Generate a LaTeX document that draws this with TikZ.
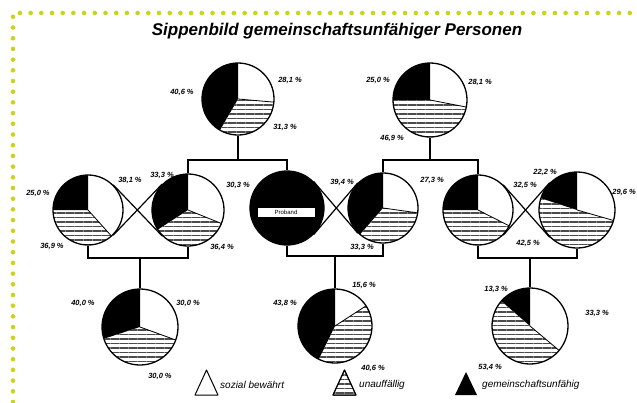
\documentclass[tikz,border=0pt]{standalone}
\usepackage{fontspec}
\setmainfont{Liberation Sans}
\usetikzlibrary{patterns.meta,calc}
\definecolor{dotgreen}{RGB}{200,212,30}
\tikzset{
 pienode/.style={circle, draw=black, line width=1.3pt, inner sep=0pt},
 conn/.style={line width=1.6pt},
 crossline/.style={line width=1.2pt},
 hatch/.style={pattern={Lines[angle=0,distance=4.5pt,line width=1.6pt]}, pattern color=black!70},
 pct/.style={font=\fontsize{7.5}{8}\selectfont\bfseries\itshape, inner sep=0pt},
 legtext/.style={font=\fontsize{10}{11}\selectfont\itshape, anchor=west, inner sep=0pt},
 dotline/.style={draw=dotgreen, line width=4.6pt, line cap=round, dash pattern=on 0pt off 10.7pt},
}
\newcommand\mypie[6]{%
 \fill[black] (#2,-#3) -- ++(90:#4) arc[start angle=90,end angle=#5,radius=#4] -- cycle;
 \fill[hatch] (#2,-#3) -- ++(#6:#4) arc[start angle=#6,end angle=#5-360,radius=#4] -- cycle;
 \draw[line width=0.8pt] (#2,-#3) -- ++(#6:#4);
 \node[pienode, minimum size=#4*2pt] (#1) at (#2,-#3) {};
}
\begin{document}
\begin{tikzpicture}[x=1pt,y=1pt]
\useasboundingbox (0,0) rectangle (637,-402);
\fill[white] (0,0) rectangle (637,-402);
\draw[dotline] (13,-402) -- (13,-13) -- (640,-13);

\node[font=\fontsize{17}{19}\selectfont\bfseries\itshape] (title) at (337,-31) {Sippenbild gemeinschaftsunfähiger Personen};

% pies: name, cx, cy, r, black end, white end
\mypie{T1}{238}{99}{36}{240}{-5}
\mypie{T2}{430}{100}{37}{180}{-11}
\mypie{A}{88}{210}{35}{180}{-48}
\mypie{B}{188}{210}{36}{213}{-22}
\node[pienode, fill=black, minimum size=74pt] (C) at (287,-208) {};
\node[fill=white, draw=black, line width=0.6pt, minimum width=58pt, minimum height=10pt, inner sep=0pt, font=\fontsize{6}{6}\selectfont] (Clabel) at (286,-212) {Proband};
\mypie{D}{383}{208}{35}{229}{-8}
\mypie{E}{478}{210}{35}{180}{-27}
\mypie{F}{577}{210}{38}{162}{-16}
\mypie{G}{140}{327}{38}{198}{-20}
\mypie{H}{335}{326}{37}{244}{33}
\mypie{I}{530}{326}{38}{139}{-40}

% junctions
\coordinate (j1) at (238,-160);
\coordinate (j2) at (430,-160);
\coordinate (j3) at (140,-258);
\coordinate (j4) at (335,-256);
\coordinate (j5) at (530,-258);

\draw[conn] (T1.south) -- (j1);
\draw[conn] (B.north) |- (j1) -| (C.north);
\draw[conn] (T2.south) -- (j2);
\draw[conn] (D.north) |- (j2) -| (E.north);

\draw[conn] (A.south) |- (j3) -| (B.south);
\draw[conn] (j3) -- (G.north);
\draw[conn] (C.south) |- (j4) -| (D.south);
\draw[conn] (j4) -- (H.north);
\draw[conn] (E.south) |- (j5) -| (F.south);
\draw[conn] (j5) -- (I.north);

% crossings
\draw[crossline] (A.45) -- (B.225);
\draw[crossline] (A.-45) -- (B.135);
\draw[crossline] (C.45) -- (D.225);
\draw[crossline] (C.-45) -- (D.135);
\draw[crossline] (E.45) -- (F.225);
\draw[crossline] (E.-45) -- (F.135);

% percentages
\node[pct] (pT1a) at (182,-92) {40,6 \%};
\node[pct] (pT1b) at (290,-80) {28,1 \%};
\node[pct] (pT1c) at (285,-127) {31,3 \%};
\node[pct] (pT2a) at (378,-80) {25,0 \%};
\node[pct] (pT2b) at (480,-82) {28,1 \%};
\node[pct] (pT2c) at (392,-138) {46,9 \%};
\node[pct] (pAa) at (38,-193) {25,0 \%};
\node[pct] (pAb) at (130,-180) {38,1 \%};
\node[pct] (pAc) at (52,-246) {36,9 \%};
\node[pct] (pBa) at (162,-175) {33,3 \%};
\node[pct] (pBb) at (238,-185) {30,3 \%};
\node[pct] (pBc) at (222,-247) {36,4 \%};
\node[pct] (pDa) at (342,-182) {39,4 \%};
\node[pct] (pDb) at (432,-180) {27,3 \%};
\node[pct] (pDc) at (362,-247) {33,3 \%};
\node[pct] (pEb) at (525,-185) {32,5 \%};
\node[pct] (pEc) at (528,-243) {42,5 \%};
\node[pct] (pFa) at (545,-172) {22,2 \%};
\node[pct] (pFb) at (624,-192) {29,6 \%};
\node[pct] (pGa) at (83,-303) {40,0 \%};
\node[pct] (pGb) at (188,-303) {30,0 \%};
\node[pct] (pGc) at (160,-376) {30,0 \%};
\node[pct] (pHa) at (285,-303) {43,8 \%};
\node[pct] (pHb) at (364,-285) {15,6 \%};
\node[pct] (pHc) at (373,-368) {40,6 \%};
\node[pct] (pIa) at (496,-289) {13,3 \%};
\node[pct] (pIb) at (597,-313) {33,3 \%};
\node[pct] (pIc) at (490,-367) {53,4 \%};

% legend
\draw[line width=1pt, line join=round] (195,-395) -- (206.5,-370) -- (218,-395) -- cycle;
\node[legtext] (L1) at (220,-385) {sozial bewährt};
\draw[hatch, line width=1pt, line join=round] (333,-395) -- (344.5,-370) -- (356,-395) -- cycle;
\draw[line width=1pt, line join=round] (333,-395) -- (344.5,-370) -- (356,-395) -- cycle;
\node[legtext] (L2) at (359,-385) {unauffällig};
\fill[black, line join=round] (455,-395) -- (466,-372) -- (477,-395) -- cycle;
\node[legtext] (L3) at (482,-385) {gemeinschaftsunfähig};
\end{tikzpicture}
\end{document}
